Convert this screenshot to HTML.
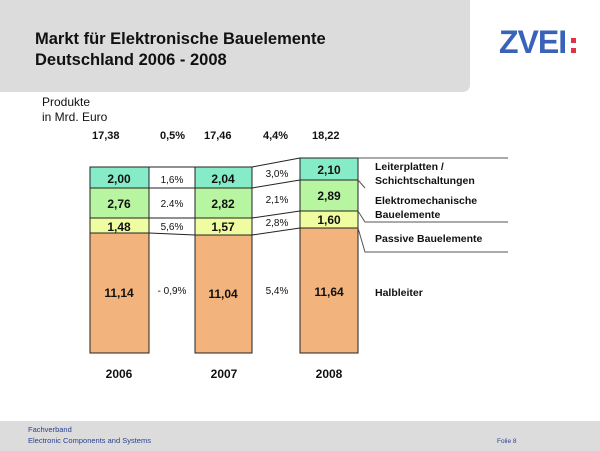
<!DOCTYPE html>
<html><head><meta charset="utf-8"><style>
html,body{margin:0;padding:0;background:#fff;}
svg{display:block;font-family:"Liberation Sans",Arial,sans-serif;}
</style></head><body>
<svg width="600" height="451" viewBox="0 0 600 451" xmlns="http://www.w3.org/2000/svg">
<path d="M0 0 H470 V84 Q470 92 462 92 H0 Z" fill="#dcdcdc"/>
<text x="35" y="44" font-size="16.5" font-weight="bold" fill="#111">Markt für Elektronische Bauelemente</text>
<text x="35" y="65" font-size="16.5" font-weight="bold" fill="#111">Deutschland 2006 - 2008</text>
<text x="499" y="53" font-size="32" font-weight="bold" fill="#3a62b8" letter-spacing="-1">ZVEI</text>
<rect x="571" y="38" width="5" height="5" fill="#e0304a"/><rect x="571" y="48" width="5" height="5" fill="#e0304a"/>
<text x="42" y="106" font-size="12" fill="#111">Produkte</text>
<text x="42" y="121" font-size="12" fill="#111">in Mrd. Euro</text>
<g font-size="11" font-weight="bold" fill="#111">
<text x="92" y="139">17,38</text><text x="160" y="139">0,5%</text><text x="204" y="139">17,46</text><text x="263" y="139">4,4%</text><text x="312" y="139">18,22</text>
</g>
<g stroke="#222" stroke-width="1">
<rect x="90" y="167" width="59" height="21" fill="#86ecc8"/>
<rect x="90" y="188" width="59" height="30" fill="#b8f5a0"/>
<rect x="90" y="218" width="59" height="15" fill="#f0fca0"/>
<rect x="90" y="233" width="59" height="120" fill="#f2b47c"/>
<rect x="195" y="167" width="57" height="21" fill="#86ecc8"/>
<rect x="195" y="188" width="57" height="30" fill="#b8f5a0"/>
<rect x="195" y="218" width="57" height="17" fill="#f0fca0"/>
<rect x="195" y="235" width="57" height="118" fill="#f2b47c"/>
<rect x="300" y="158" width="58" height="22" fill="#86ecc8"/>
<rect x="300" y="180" width="58" height="31" fill="#b8f5a0"/>
<rect x="300" y="211" width="58" height="17" fill="#f0fca0"/>
<rect x="300" y="228" width="58" height="125" fill="#f2b47c"/>
<path d="M149 167H195M149 188H195M149 218H195M149 233L195 235" fill="none"/>
<path d="M252 167L300 158M252 188L300 180M252 218L300 211M252 235L300 228" fill="none"/>
<path d="M358 158H508M358 180L365 188M358 211L365 222H508M358 228L365 252H508" fill="none" stroke="#555"/>
</g>
<g font-size="12" font-weight="bold" fill="#111" text-anchor="middle">
<text x="119" y="183">2,00</text><text x="119" y="208">2,76</text><text x="119" y="231">1,48</text><text x="119" y="297">11,14</text>
<text x="223" y="183">2,04</text><text x="223" y="208">2,82</text><text x="223" y="231">1,57</text><text x="223" y="298">11,04</text>
<text x="329" y="174">2,10</text><text x="329" y="200">2,89</text><text x="329" y="224">1,60</text><text x="329" y="296">11,64</text>
<text x="119" y="378">2006</text><text x="224" y="378">2007</text><text x="329" y="378">2008</text>
</g>
<g font-size="10" fill="#111" text-anchor="middle">
<text x="172" y="183">1,6%</text><text x="172" y="207">2.4%</text><text x="172" y="230">5,6%</text><text x="172" y="294">- 0,9%</text>
<text x="277" y="177">3,0%</text><text x="277" y="203">2,1%</text><text x="277" y="226">2,8%</text><text x="277" y="294">5,4%</text>
</g>
<g font-size="10.5" font-weight="bold" fill="#111">
<text x="375" y="170">Leiterplatten /</text><text x="375" y="184">Schichtschaltungen</text>
<text x="375" y="204">Elektromechanische</text><text x="375" y="218">Bauelemente</text>
<text x="375" y="242">Passive Bauelemente</text>
<text x="375" y="296">Halbleiter</text>
</g>
<rect x="0" y="421" width="600" height="30" fill="#dcdcdc"/>
<text x="28" y="432" font-size="7.5" fill="#2a3f8f">Fachverband</text>
<text x="28" y="443" font-size="7.5" fill="#2a3f8f">Electronic Components and Systems</text>
<text x="497" y="443" font-size="6.5" fill="#2a3f8f">Folie 8</text>
</svg>
</body></html>
